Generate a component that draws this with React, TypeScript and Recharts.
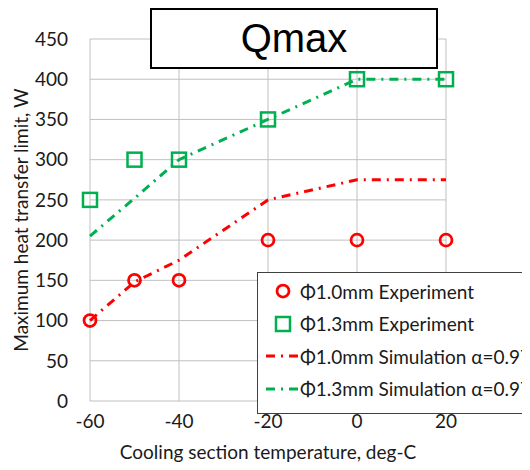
import { ComposedChart, Line, XAxis, YAxis, CartesianGrid } from "recharts";

// cooling section temperature, deg-C
const temps = [-60, -50, -40, -20, 0, 20];
// measured Qmax, W
const exp10 = [100, 150, 150, 200, 200, 200];
const exp13 = [250, 300, 300, 350, 400, 400];
// simulated Qmax, W
const sim10 = [100, 148, 175, 250, 275, 275];
const sim13 = [205, 252, 300, 350, 400, 400];

const xTicks = [-60, -40, -20, 0, 20];
const yTicks = [0, 50, 100, 150, 200, 250, 300, 350, 400, 450];

const legendLabels = [
  "Φ1.0mm Experiment",
  "Φ1.3mm Experiment",
  "Φ1.0mm Simulation α=0.97",
  "Φ1.3mm Simulation α=0.97",
];

const RED = "#ff0000";
const GREEN = "#00b050";
const DASH = "9 6 2 6";
const FONT = "Lato, 'Open Sans', sans-serif";

const data = temps.map((t, i) => ({
  t,
  exp10: exp10[i],
  exp13: exp13[i],
  sim10: sim10[i],
  sim13: sim13[i],
}));

function RedCircle(props: any) {
  const { cx, cy, index } = props;
  return (
    <circle key={`c${index}`} cx={cx} cy={cy} r={6} fill="none" stroke={RED} strokeWidth={2.75} />
  );
}

function GreenSquare(props: any) {
  const { cx, cy, index } = props;
  return (
    <rect
      key={`s${index}`}
      x={cx - 7}
      y={cy - 7}
      width={14}
      height={14}
      fill="none"
      stroke={GREEN}
      strokeWidth={2.5}
    />
  );
}

function LegendBox() {
  const rowStyle = {
    display: "flex",
    alignItems: "center",
    height: "32.5px",
  };
  const symbols = [
    <svg width={42} height={20} key="a">
      <circle cx={25} cy={10} r={6} fill="none" stroke={RED} strokeWidth={2.75} />
    </svg>,
    <svg width={42} height={20} key="b">
      <rect x={18} y={3} width={14} height={14} fill="none" stroke={GREEN} strokeWidth={2.5} />
    </svg>,
    <svg width={42} height={20} key="c">
      <line x1={8} y1={10} x2={42} y2={10} stroke={RED} strokeWidth={3} strokeDasharray={DASH} />
    </svg>,
    <svg width={42} height={20} key="d">
      <line x1={8} y1={10} x2={42} y2={10} stroke={GREEN} strokeWidth={3} strokeDasharray={DASH} />
    </svg>,
  ];
  return (
    <div
      style={{
        position: "absolute",
        left: "257px",
        top: "272px",
        width: "320px",
        background: "#fff",
        border: "1px solid #404040",
        padding: "2px 0 8px 0",
        fontFamily: FONT,
        fontSize: "19px",
        color: "#1a1a1a",
        whiteSpace: "nowrap",
      }}
    >
      {legendLabels.map((label, i) => (
        <div style={rowStyle} key={label}>
          {symbols[i]}
          <span>{label}</span>
        </div>
      ))}
    </div>
  );
}

export default function App() {
  return (
    <div
      style={{
        position: "relative",
        width: "530px",
        height: "470px",
        margin: "-8px",
        overflow: "hidden",
        background: "#fff",
      }}
    >
      <ComposedChart
        width={530}
        height={470}
        data={data}
        margin={{ top: 39, right: 84, bottom: 39, left: 0 }}
      >
        <CartesianGrid stroke="#c0c0c0" strokeWidth={1} />
        <XAxis
          dataKey="t"
          type="number"
          domain={[-60, 20]}
          ticks={xTicks}
          interval={0}
          axisLine={false}
          tickLine={false}
          tickMargin={8}
          height={30}
          tick={{ fill: "#1a1a1a", fontSize: 19, fontFamily: FONT }}
          label={{
            value: "Cooling section temperature, deg-C",
            position: "bottom",
            offset: 15,
            fill: "#1a1a1a",
            fontSize: 19,
            fontFamily: FONT,
          }}
        />
        <YAxis
          type="number"
          domain={[0, 450]}
          ticks={yTicks}
          interval={0}
          axisLine={false}
          tickLine={false}
          tickMargin={16}
          width={90}
          tick={{ fill: "#1a1a1a", fontSize: 19, fontFamily: FONT }}
          label={{
            value: "Maximum heat transfer limit, W",
            angle: -90,
            position: "insideLeft",
            offset: 21,
            style: { textAnchor: "middle" },
            fill: "#1a1a1a",
            fontSize: 19,
            fontFamily: FONT,
          }}
        />
        <Line
          dataKey="sim10"
          stroke={RED}
          strokeWidth={3}
          strokeDasharray={DASH}
          dot={false}
          activeDot={false}
          isAnimationActive={false}
        />
        <Line
          dataKey="sim13"
          stroke={GREEN}
          strokeWidth={3}
          strokeDasharray={DASH}
          dot={false}
          activeDot={false}
          isAnimationActive={false}
        />
        <Line
          dataKey="exp10"
          stroke="none"
          dot={RedCircle}
          activeDot={false}
          isAnimationActive={false}
        />
        <Line
          dataKey="exp13"
          stroke="none"
          dot={GreenSquare}
          activeDot={false}
          isAnimationActive={false}
        />
      </ComposedChart>
      <LegendBox />
      <div
        style={{
          position: "absolute",
          left: "150px",
          top: "8px",
          width: "288px",
          height: "61px",
          boxSizing: "border-box",
          border: "2px solid #000",
          background: "#fff",
          display: "flex",
          alignItems: "center",
          justifyContent: "center",
          fontFamily: "'Liberation Sans', Arial, sans-serif",
          fontSize: "40px",
          color: "#000",
        }}
      >
        Qmax
      </div>
    </div>
  );
}
